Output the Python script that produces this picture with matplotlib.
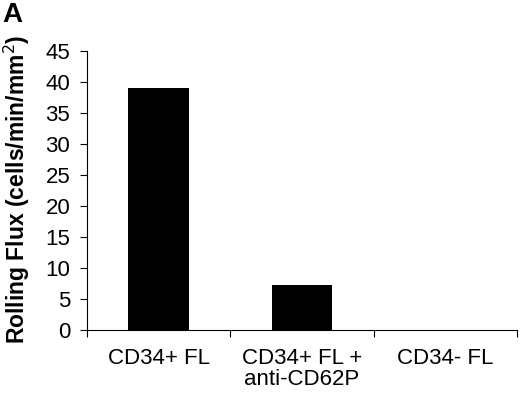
import matplotlib
matplotlib.use("Agg")
import matplotlib.pyplot as plt

categories = ["CD34+ FL", "CD34+ FL +\nanti-CD62P", "CD34- FL"]
values = [39.0, 7.2, 0.0]
yticks = [0, 5, 10, 15, 20, 25, 30, 35, 40, 45]

plt.rcParams['font.family'] = ['Liberation Sans', 'DejaVu Sans']

fig = plt.figure(figsize=(5.2, 3.98), dpi=100)
ax = fig.add_axes([0.167, 0.171, 0.827, 0.701])

pos = [i + 0.5 for i in range(len(categories))]
ax.bar(pos, values, width=0.42, color='black')
ax.set_xlim(0, len(categories))
ax.set_ylim(0, 45)
ax.set_yticks(yticks)
ax.set_yticklabels([str(t) for t in yticks], fontsize=16)
ax.set_xticks(pos)
ax.set_xticklabels(categories, fontsize=16, linespacing=1.0)
ax.tick_params(axis='x', which='major', length=0, pad=13)
ax.set_xticks(range(len(categories) + 1), minor=True)
ax.tick_params(axis='x', which='minor', length=5, direction='out', width=0.8)
ax.tick_params(axis='y', length=5, width=0.8, direction='out', pad=7)
for s in ['top', 'right']:
    ax.spines[s].set_visible(False)
for s in ['left', 'bottom']:
    ax.spines[s].set_linewidth(0.8)
fig.text(2 / 520, 1 - 189 / 398, "Rolling Flux (cells/min/mm$^2$)", fontsize=16.5,
         fontweight='bold', rotation=90, ha='left', va='center')
fig.text(2 / 520, 1 - 2 / 398, "A", fontsize=20, fontweight='bold', va='top', ha='left')

fig.savefig("out.png", dpi=100)
